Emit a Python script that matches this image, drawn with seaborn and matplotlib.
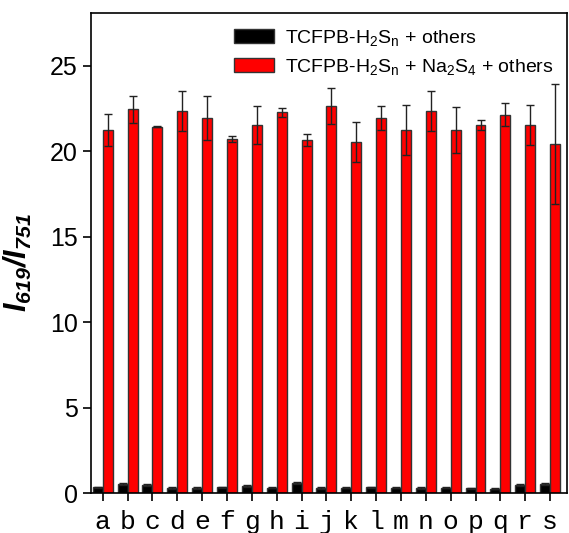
import numpy as np
import pandas as pd
import seaborn as sns
import matplotlib.pyplot as plt

# Values
categories = list("abcdefghijklmnopqrs")
black_vals = [0.33, 0.54, 0.47, 0.29, 0.29, 0.33, 0.39, 0.31, 0.60, 0.29,
              0.31, 0.33, 0.31, 0.29, 0.31, 0.27, 0.25, 0.47, 0.53]
black_err = [0.05, 0.06, 0.08, 0.04, 0.04, 0.05, 0.06, 0.04, 0.05, 0.04,
             0.04, 0.05, 0.04, 0.04, 0.04, 0.04, 0.04, 0.07, 0.07]
red_vals = [21.25, 22.46, 21.45, 22.36, 21.96, 20.74, 21.55, 22.29, 20.65, 22.64,
            20.55, 21.96, 21.25, 22.36, 21.25, 21.55, 22.15, 21.55, 20.43]
red_err = [0.92, 0.80, 0.05, 1.15, 1.30, 0.18, 1.13, 0.27, 0.35, 1.05,
           1.15, 0.68, 1.48, 1.19, 1.33, 0.27, 0.66, 1.18, 3.52]
series = [r"TCFPB-H$_2$S$_n$ + others",
          r"TCFPB-H$_2$S$_n$ + Na$_2$S$_4$ + others"]

df = pd.DataFrame({
    "cat": categories * 2,
    "value": black_vals + red_vals,
    "group": [series[0]] * len(categories) + [series[1]] * len(categories),
})

sns.set_style("ticks")
plt.rcParams["font.family"] = ["Liberation Sans", "DejaVu Sans"]
plt.rcParams["mathtext.default"] = "regular"
plt.rcParams["text.color"] = "black"
plt.rcParams["axes.labelcolor"] = "black"
plt.rcParams["xtick.color"] = "black"
plt.rcParams["ytick.color"] = "black"

fig = plt.figure(figsize=(5.69, 5.33), dpi=100)
ax = fig.add_axes([0.16, 0.075, 0.8365, 0.9006])

sns.barplot(data=df, x="cat", y="value", hue="group", hue_order=series,
            palette=["#000000", "#ff0000"], saturation=1, width=0.8,
            errorbar=None, edgecolor="#333333", linewidth=1.0, ax=ax)

# error bars on top of each bar
for container, errs in zip(ax.containers, [black_err, red_err]):
    xs = [p.get_x() + p.get_width() / 2 for p in container.patches]
    hs = [p.get_height() for p in container.patches]
    ax.errorbar(xs, hs, yerr=errs, fmt="none", ecolor="#222222",
                elinewidth=1.0, capsize=3.2, capthick=1.0, zorder=5)

ax.set_ylim(0, 28.1)
ax.set_xlim(-0.47, 18.68)
ax.set_yticks([0, 5, 10, 15, 20, 25])
ax.set_xlabel("")
ax.set_ylabel(r"$I_{619}$/$I_{751}$", fontsize=22, fontweight="bold",
              style="italic")
ax.yaxis.set_label_coords(-0.12, 0.48)

ax.tick_params(axis="y", labelsize=18, direction="out", length=6, width=1.2)
ax.tick_params(axis="x", direction="out", length=6, width=1.2, pad=6)
for lab in ax.get_xticklabels():
    lab.set_fontfamily(["Liberation Mono", "DejaVu Sans Mono"])
    lab.set_fontsize(19)

for side in ["top", "right", "left", "bottom"]:
    ax.spines[side].set_visible(True)
    ax.spines[side].set_linewidth(1.2)
    ax.spines[side].set_color("black")

leg = ax.legend(loc="upper right", bbox_to_anchor=(0.988, 0.985), frameon=False,
                fontsize=14, handlelength=2.05, handleheight=0.75,
                handletextpad=0.55, labelspacing=0.45, borderaxespad=0)

fig.savefig("out.png", dpi=100)
